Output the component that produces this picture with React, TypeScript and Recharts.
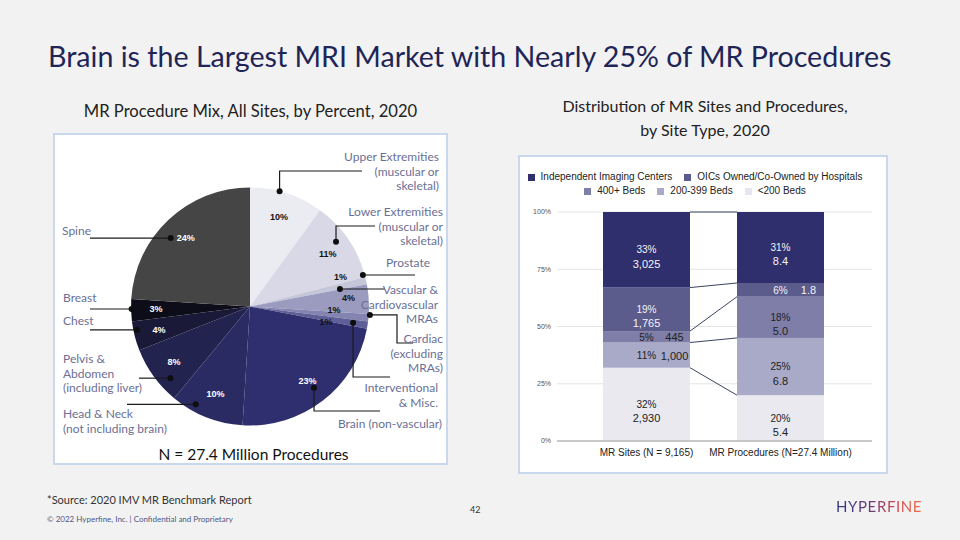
import React from 'react'
import { PieChart, Pie, Cell, BarChart, Bar, XAxis, YAxis, CartesianGrid } from 'recharts'

// ---- pie data: MR procedure mix, clockwise from 12 o'clock
const PIE_NAMES = [
  'Upper Extremities', 'Lower Extremities', 'Prostate', 'Vascular & Cardiovascular MRAs',
  'Cardiac', 'Interventional & Misc.', 'Brain (non-vascular)', 'Head & Neck',
  'Pelvis & Abdomen', 'Chest', 'Breast', 'Spine',
]
const PIE_SHARES = [10, 11, 1, 4, 1, 1, 23, 10, 8, 4, 3, 24]
const PIE_LABEL_LINES = [
  ['Upper Extremities', '(muscular or', 'skeletal)'],
  ['Lower Extremities', '(muscular or', 'skeletal)'],
  ['Prostate'],
  ['Vascular &', 'Cardiovascular', 'MRAs'],
  ['Cardiac', '(excluding', 'MRAs)'],
  ['Interventional', '& Misc.'],
  ['Brain (non-vascular)'],
  ['Head & Neck', '(not including brain)'],
  ['Pelvis &', 'Abdomen', '(including liver)'],
  ['Chest'],
  ['Breast'],
  ['Spine'],
]

// ---- bar data: distribution of sites / procedures by site type (bottom to top)
const BAR_CATEGORIES = ['MR Sites (N = 9,165)', 'MR Procedures (N=27.4 Million)']
const SERIES_NAMES = ['<200 Beds', '200-399 Beds', '400+ Beds', 'OICs Owned/Co-Owned by Hospitals', 'Independent Imaging Centers']
const SITE_SHARES = [32, 11, 5, 19, 33]
const SITE_COUNTS = [2930, 1000, 445, 1765, 3025]
const PROC_SHARES = [20, 25, 18, 6, 31]
const PROC_MILLIONS = [5.4, 6.8, 5.0, 1.8, 8.4]
const Y_TICKS = [0, 25, 50, 75, 100]

// ---- styles
const BG = '#f2f2f2'
const TITLE = '#1f2557'
const LABEL = '#6b6f96'
const PANEL_BORDER = '#c9d8ec'
const PIE_COLORS = [
  '#ebebf2', '#d8d8e6', '#c6c6da', '#9b9bc0', '#8484b0', '#5f5f98',
  '#2f2f6f', '#2b2b63', '#232350', '#1a1a38', '#0d0d1a', '#454545',
]
const PIE_DARK = [false, false, false, false, false, false, true, true, true, true, true, true]
const BAR_COLORS = ['#e9e9ef', '#a9a9c8', '#7e7ea8', '#5b5b8c', '#2f2f6e']
const BAR_TEXT = ['#222', '#222', '#222', '#f4f4f8', '#f4f4f8']
const LEGEND_ORDER = [4, 3, 2, 1, 0]
const CAT_GAP = 23.5
const SANS = '"Liberation Sans", Arial, sans-serif'
const RAD = Math.PI / 180

// callout layout, slide coordinates; shift is clockwise degrees off the slice middle
const CALLOUTS = [
  { shift: -3.6, r: 1.0, path: [['v', 171], ['h', 362]], tx: 439, ty: 157, anchor: 'end' },
  { shift: -2.8, r: 0.905, path: [['v', 226], ['h', 375]], tx: 443, ty: 212, anchor: 'end' },
  { shift: -3, r: 0.985, path: [['h', 415]], tx: 430, ty: 263, anchor: 'end' },
  { shift: -7.4, r: 0.77, path: [['h', 385]], tx: 438, ty: 290, anchor: 'end' },
  { shift: -1.4, r: 1.01, path: [['h', 397], ['v', 343], ['h', 413]], tx: 443, ty: 339, anchor: 'end' },
  { shift: 0, r: 0.877, path: [['v', 377], ['h', 390]], tx: 438, ty: 388, anchor: 'end' },
  { shift: -0.4, r: 0.87, path: [['v', 411], ['h', 380]], tx: 442, ty: 424, anchor: 'end' },
  { shift: 7.4, r: 0.94, path: [['h', 127]], tx: 63, ty: 414, anchor: 'start' },
  { shift: -6, r: 0.9, path: [['h', 139]], tx: 63, ty: 359, anchor: 'start' },
  { shift: 2.7, r: 0.97, path: [['h', 90]], tx: 63, ty: 321, anchor: 'start' },
  { shift: 0.6, r: 0.995, path: [['h', 90]], tx: 63, ty: 298, anchor: 'start' },
  { shift: -6, r: 0.88, path: [['h', 90]], tx: 62, ty: 231, anchor: 'start' },
]
const PCT_POS: Record<number, { shift: number; r: number }> = {
  2: { shift: -5.5, r: 0.8 },
  3: { shift: -1.4, r: 0.83 },
  4: { shift: -3, r: 0.707 },
  5: { shift: 2.5, r: 0.652 },
}

const pieData = PIE_NAMES.map((name, i) => ({ name, value: PIE_SHARES[i] }))

const seriesKeys = SERIES_NAMES.map((_, j) => `s${j}`)
const barData = BAR_CATEGORIES.map((name, i) => {
  const shares = i === 0 ? SITE_SHARES : PROC_SHARES
  const row: Record<string, string | number> = { name }
  seriesKeys.forEach((k, j) => { row[k] = shares[j] })
  return row
})

const sum = (arr: number[], n: number) => arr.slice(0, n).reduce((a, b) => a + b, 0)

function renderPieLabel(props: any) {
  const { cx, cy, midAngle, outerRadius, index } = props
  const c = CALLOUTS[index]
  const pos = PCT_POS[index] ?? { shift: 0, r: 0.79 }
  const base = 90 - midAngle
  const pa = (base + pos.shift) * RAD
  const px = cx + outerRadius * pos.r * Math.sin(pa)
  const py = cy - outerRadius * pos.r * Math.cos(pa)
  const da = (base + c.shift) * RAD
  const dx = cx + outerRadius * c.r * Math.sin(da)
  const dy = cy - outerRadius * c.r * Math.cos(da)
  let x = dx
  let y = dy
  const pts = [[x, y]]
  for (const [dir, v] of c.path as [string, number][]) {
    if (dir === 'v') y = v
    else x = v
    pts.push([x, y])
  }
  return (
    <g key={`lbl-${index}`}>
      <text x={px} y={py} textAnchor="middle" dominantBaseline="central"
        fontFamily={SANS} fontWeight="bold" fontSize={9} fill={PIE_DARK[index] ? '#fff' : '#111'}>
        {PIE_SHARES[index]}%
      </text>
      <polyline points={pts.map(p => p.join(',')).join(' ')} fill="none" stroke="#1b1b1b" strokeWidth={1.2} />
      <circle cx={dx} cy={dy} r={3} fill="#0e0e0e" />
      <text x={c.tx} y={c.ty + 4} textAnchor={c.anchor} fontFamily="Lato, sans-serif" fontSize={12} fill={LABEL}>
        {PIE_LABEL_LINES[index].map((line, k) => (
          <tspan key={k} x={c.tx} y={c.ty + 4 + k * 14.5}>{line}</tspan>
        ))}
      </text>
    </g>
  )
}

function makeBarShape(j: number) {
  return (props: any) => {
    const { x, y, width, height, index } = props
    const shares = index === 0 ? SITE_SHARES : PROC_SHARES
    const valueText = index === 0 ? SITE_COUNTS[j].toLocaleString('en-US') : PROC_MILLIONS[j].toFixed(1)
    const cxm = x + width / 2
    const cym = y + height / 2
    const inline = height < 30
    let connector = null
    if (index === 0) {
      const ppu = height / SITE_SHARES[j]
      const bottom = y + height + sum(SITE_SHARES, j) * ppu
      const y2 = bottom - sum(PROC_SHARES, j + 1) * ppu
      connector = <line x1={x + width} y1={y} x2={x + width + 2 * CAT_GAP} y2={y2} stroke="#3d4360" strokeWidth={1} />
    }
    return (
      <g>
        <rect x={x} y={y} width={width} height={height} fill={BAR_COLORS[j]} />
        {connector}
        {inline ? (
          <>
            <text x={cxm} y={cym + 4} textAnchor="middle" fontFamily={SANS} fontSize={10} fill={BAR_TEXT[j]}>{shares[j]}%</text>
            <text x={cxm + 28} y={cym + 4.5} textAnchor="middle" fontFamily={SANS} fontSize={11} fill={BAR_TEXT[j]}>{valueText}</text>
          </>
        ) : (
          <>
            <text x={cxm} y={cym + 3.5} textAnchor="middle" fontFamily={SANS} fontSize={10} fill={BAR_TEXT[j]}>{shares[j]}%</text>
            <text x={cxm} y={cym + 18} textAnchor="middle" fontFamily={SANS} fontSize={11} fill={BAR_TEXT[j]}>{valueText}</text>
          </>
        )}
      </g>
    )
  }
}

export default function App() {
  return (
    <div style={{ position: 'relative', width: 960, height: 540, background: BG, overflow: 'hidden', fontFamily: 'Lato, sans-serif' }}>
      <style>{'body{margin:0}'}</style>

      <div style={{ position: 'absolute', left: 48, top: 39, fontSize: 28.6, color: TITLE, whiteSpace: 'nowrap' }}>
        Brain is the Largest MRI Market with Nearly 25% of MR Procedures
      </div>
      <div style={{ position: 'absolute', left: 53, width: 395, top: 101, textAlign: 'center', fontSize: 16.6, color: '#222' }}>
        MR Procedure Mix, All Sites, by Percent, 2020
      </div>
      <div style={{ position: 'absolute', left: 520, width: 370, top: 94, textAlign: 'center', fontSize: 16, lineHeight: '24px', color: '#222' }}>
        Distribution of MR Sites and Procedures,<br />by Site Type, 2020
      </div>

      {/* pie panel */}
      <div style={{ position: 'absolute', left: 53, top: 133, width: 391, height: 328, background: '#fff', border: `2px solid ${PANEL_BORDER}` }} />
      <div style={{ position: 'absolute', left: 0, top: 0 }}>
        <PieChart width={460} height={480} margin={{ top: 0, right: 0, bottom: 0, left: 0 }}>
          <Pie data={pieData} dataKey="value" nameKey="name" cx={250} cy={306.5} outerRadius={119}
            startAngle={90} endAngle={-270} stroke="none" label={renderPieLabel} labelLine={false}
            isAnimationActive={false}>
            {pieData.map((d, i) => <Cell key={d.name} fill={PIE_COLORS[i]} />)}
          </Pie>
        </PieChart>
      </div>
      <div style={{ position: 'absolute', left: 56, width: 395, top: 445, textAlign: 'center', fontSize: 15.5, color: '#111' }}>
        N = 27.4 Million Procedures
      </div>

      {/* bar panel */}
      <div style={{ position: 'absolute', left: 518, top: 155, width: 366, height: 315, background: '#fff', border: `2px solid ${PANEL_BORDER}` }} />
      <div style={{ position: 'absolute', left: 510, top: 150 }}>
        <BarChart width={380} height={330} data={barData} margin={{ top: 62, right: 18, left: 0, bottom: 15 }}
          barCategoryGap={CAT_GAP}>
          <CartesianGrid vertical={false} stroke="#e4e4e4" />
          <XAxis dataKey="name" height={24} tickLine={false} axisLine={{ stroke: '#a0a0a0' }}
            padding={{ left: 22.5, right: 24.5 }} interval={0}
            tick={{ fontSize: 10, fill: '#222', fontFamily: SANS }} />
          <YAxis width={47} domain={[0, 100]} ticks={Y_TICKS} tickFormatter={v => `${v}%`}
            axisLine={false} tickLine={false} tickSize={4}
            tick={{ fontSize: 7, fill: '#555', fontFamily: SANS }} />
          {seriesKeys.map((k, j) => (
            <Bar key={k} dataKey={k} name={SERIES_NAMES[j]} stackId="a" fill={BAR_COLORS[j]}
              shape={makeBarShape(j)} isAnimationActive={false} />
          ))}
        </BarChart>
      </div>
      <div style={{ position: 'absolute', left: 525, top: 171, width: 340, display: 'flex', flexWrap: 'wrap', justifyContent: 'center', columnGap: 12, rowGap: 2, fontFamily: SANS, fontSize: 10, color: '#222' }}>
        {LEGEND_ORDER.map(j => (
          <span key={j} style={{ display: 'inline-flex', alignItems: 'center', gap: 6, lineHeight: '12px', whiteSpace: 'nowrap' }}>
            <i style={{ display: 'inline-block', width: 7, height: 7, background: BAR_COLORS[j] === '#e9e9ef' ? '#e6e6ee' : BAR_COLORS[j] }} />
            {SERIES_NAMES[j]}
          </span>
        ))}
      </div>

      {/* footer */}
      <div style={{ position: 'absolute', left: 47, top: 493, fontSize: 11, color: '#333' }}>*Source: 2020 IMV MR Benchmark Report</div>
      <div style={{ position: 'absolute', left: 47, top: 514, fontSize: 8, color: '#4b5884' }}>© 2022 Hyperfine, Inc. | Confidential and Proprietary</div>
      <div style={{ position: 'absolute', left: 470, top: 504, fontSize: 9, color: '#333' }}>42</div>
      <div style={{
        position: 'absolute', left: 836, top: 497, fontSize: 15, letterSpacing: 0.6, fontWeight: 400,
        background: 'linear-gradient(90deg, #33377f 0%, #6a3a7a 40%, #d2454f 70%, #e8704a 100%)',
        WebkitBackgroundClip: 'text', backgroundClip: 'text', color: 'transparent',
      }}>
        HYPERFINE
      </div>
    </div>
  )
}
